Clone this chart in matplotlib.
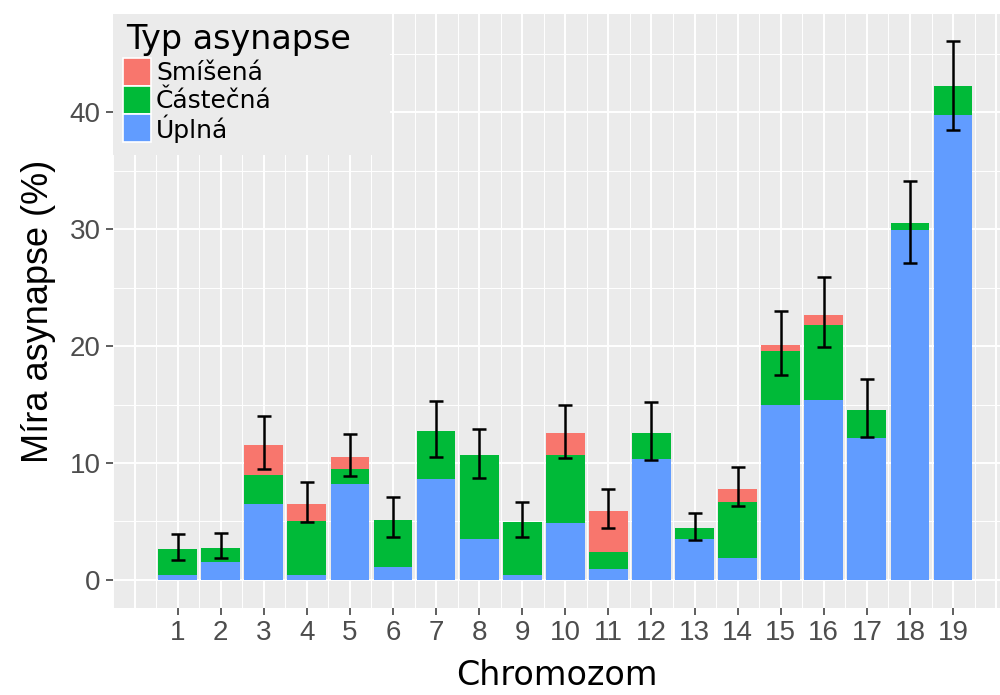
import numpy as np
import matplotlib
matplotlib.use("Agg")
import matplotlib.pyplot as plt
from matplotlib.patches import Rectangle

# values (percent)
chromozomy = list(range(1, 20))
uplna = [0.43, 1.54, 6.5, 0.43, 8.2, 1.11, 8.63, 3.5, 0.43, 4.9,
         0.94, 10.34, 3.5, 1.88, 14.96, 15.4, 12.1, 29.9, 39.8]
castecna = [2.22, 1.2, 2.47, 4.61, 1.3, 3.99, 4.07, 7.15, 4.53, 5.8,
            1.46, 2.22, 0.94, 4.79, 4.64, 6.4, 2.4, 0.6, 2.4]
smisena = [0, 0, 2.57, 1.46, 1.0, 0, 0, 0, 0, 1.86,
           3.5, 0, 0, 1.11, 0.5, 0.9, 0, 0, 0]
err_lo = [1.71, 1.88, 9.5, 4.96, 8.9, 3.7, 10.5, 8.7, 3.7, 10.4,
          4.44, 10.3, 3.42, 6.32, 17.5, 19.9, 12.2, 27.1, 38.5]
err_hi = [3.93, 4.0, 14.0, 8.4, 12.5, 7.1, 15.3, 12.9, 6.67, 14.96,
          7.8, 15.2, 5.73, 9.66, 23.0, 25.9, 17.2, 34.1, 46.1]

labels = ["Smíšená", "Částečná", "Úplná"]
colors = {"Smíšená": "#F8766D", "Částečná": "#00BA38", "Úplná": "#619CFF"}

x = np.array(chromozomy, dtype=float)
u = np.array(uplna)
c = np.array(castecna)
s = np.array(smisena)
lo = np.array(err_lo)
hi = np.array(err_hi)

fig = plt.figure(figsize=(10, 6.95), dpi=100)
ax = fig.add_axes([0.113, 1 - 608 / 695, 0.887, (608 - 14) / 695])
ax.set_facecolor("#EBEBEB")

ax.bar(x, u, width=0.9, color=colors["Úplná"], zorder=3)
ax.bar(x, c, width=0.9, bottom=u, color=colors["Částečná"], zorder=3)
ax.bar(x, s, width=0.9, bottom=u + c, color=colors["Smíšená"], zorder=3)

mid = (lo + hi) / 2
ax.errorbar(x, mid, yerr=(hi - lo) / 2, fmt="none", ecolor="black",
            elinewidth=1.8, capsize=5, capthick=1.8, zorder=4)

ax.set_xlim(-0.385, 20.09)
ax.set_ylim(-2.4, 48.4)
ax.set_xticks(chromozomy)
ax.set_xticks(np.arange(-0.5, 20.5, 1.0), minor=True)
ax.set_yticks([0, 10, 20, 30, 40])
ax.set_yticks([5, 15, 25, 35, 45], minor=True)
# extra major lines at 0 and 20 like the original x scale
ax.axvline(0, color="white", lw=1.4, zorder=1)
ax.axvline(20, color="white", lw=1.4, zorder=1)
ax.grid(which="major", color="white", lw=1.4, zorder=1)
ax.grid(which="minor", color="white", lw=0.7, zorder=1)
ax.set_axisbelow(True)
for sp in ax.spines.values():
    sp.set_visible(False)

ax.tick_params(which="major", length=5, width=1.1, color="#333333",
               labelcolor="#4D4D4D", labelsize=20, pad=4)
ax.tick_params(which="minor", length=0)
for t in ax.get_xticklabels() + ax.get_yticklabels():
    t.set_family("Liberation Sans")

ax.set_xlabel("Chromozom", fontsize=24, family="DejaVu Sans", labelpad=9)
ax.set_ylabel("Míra asynapse (%)", fontsize=26, family="Liberation Sans", labelpad=10)

# legend drawn by hand so it covers the grid like the original
leg_bg = Rectangle((113 / 1000, 1 - 155 / 695), 277 / 1000, 141 / 695,
                   transform=fig.transFigure, facecolor="#EBEBEB",
                   edgecolor="none", zorder=5)
fig.patches.append(leg_bg)
fig.text(126 / 1000, 1 - 39 / 695, "Typ asynapse", fontsize=24,
         family="DejaVu Sans", va="center", ha="left", zorder=6)
key_tops = [58, 86, 114]
for lab, top in zip(labels, key_tops):
    fig.patches.append(Rectangle((123 / 1000, 1 - (top + 28) / 695), 28 / 1000, 28 / 695,
                                 transform=fig.transFigure, facecolor=colors[lab],
                                 edgecolor="white", lw=1.2, zorder=6))
    fig.text(156 / 1000, 1 - (top + 15) / 695, lab, fontsize=18,
             family="DejaVu Sans", va="center", ha="left", zorder=6)

fig.savefig("out.png", dpi=100)
